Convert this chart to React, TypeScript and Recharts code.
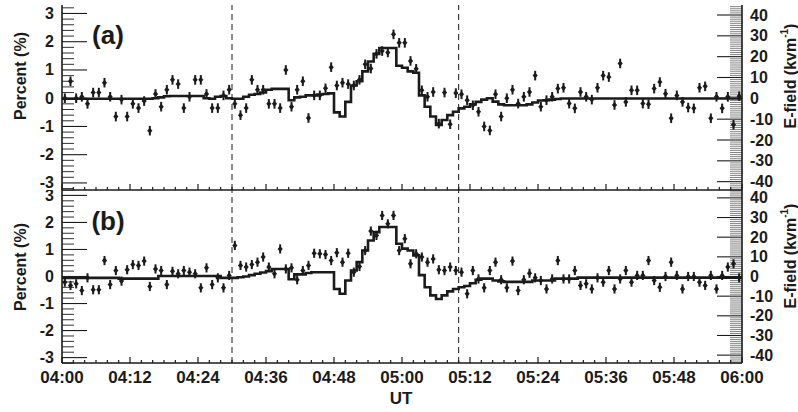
import React from 'react';
import { ComposedChart, Line, Scatter, ErrorBar, XAxis, YAxis, ReferenceLine } from 'recharts';

const INK = '#1b1b1b';
const FONT = '"Liberation Sans", Arial, Helvetica, sans-serif';

// axis labels
const timeLabels = ['04:00', '04:12', '04:24', '04:36', '04:48', '05:00', '05:12', '05:24', '05:36', '05:48', '06:00'];
const timeTicks = [0, 12, 24, 36, 48, 60, 72, 84, 96, 108, 120];
const percentTicks = [-3, -2, -1, 0, 1, 2, 3];
const efieldTicks = [-40, -30, -20, -10, 0, 10, 20, 30, 40];
const dashedTimes = [30, 70];

// panel (a): one-minute bins, percent
const percentA = [
  0.0, 0.6, 0.0, 0.05, -0.2, 0.2, 0.2, 0.55, 0.05, -0.65,
  -0.05, -0.65, -0.2, -0.35, -0.1, -1.15, 0.15, -0.3, 0.3, 0.65,
  0.5, -0.35, 0.05, 0.65, 0.65, 0.15, -0.35, -0.35, 0.1, 0.3,
  -0.2, -0.6, -0.35, 0.65, 0.3, 0.3, -0.2, -0.2, -0.35, 1.0,
  -0.3, 0.3, 0.6, -0.7, 0.1, 0.1, 0.35, 1.1, 0.45, 0.55,
  0.5, 0.45, 0.65, 1.2, 1.05, 1.57, 1.67, 1.62, 2.26, 1.96,
  1.96, 1.32, 1.04, 0.28, 0.05, 0.22, -0.9, 0.2, -0.92, 0.18,
  0.14, -0.07, -0.25, -0.48, -1.0, -1.14, 0.14, -0.65, 0.0, 0.3,
  -0.19, 0.05, 0.22, 0.8, -0.3, -0.07, 0.05, 0.34, 0.37, -0.19,
  -0.36, 0.22, 0.05, -0.05, 0.37, 0.8, 0.75, -0.24, 1.23, -0.13,
  0.28, 0.28, -0.19, -0.21, 0.34, 0.57, 0.16, -0.71, 0.1, -0.13,
  -0.33, -0.36, 0.37, 0.42, -0.71, 0.05, -0.36, 0.05, -0.94, 0.07,
];

const stepA = [
  -0.02, -0.02, -0.02, -0.02, -0.02, -0.02, -0.02, -0.02, -0.02, -0.02,
  -0.02, -0.02, -0.02, -0.02, -0.02, -0.02, 0.0, 0.03, 0.07, 0.08,
  0.08, 0.08, 0.08, 0.08, 0.08, 0.0, -0.02, 0.05, 0.08, 0.0,
  -0.02, -0.02, 0.05, 0.12, 0.15, 0.2, 0.3, 0.33, 0.33, 0.33,
  -0.07, 0.03, 0.05, 0.1, 0.1, 0.13, 0.15, 0.17, -0.5, -0.65,
  -0.13, 0.45, 0.6, 0.95, 1.3, 1.57, 1.78, 1.78, 1.78, 1.15,
  1.08, 0.95, 0.9, 0.1, -0.3, -0.65, -0.95, -0.77, -0.6, -0.48,
  -0.36, -0.3, -0.22, -0.13, -0.05, 0.0, -0.12, -0.22, -0.25, -0.25,
  -0.25, -0.25, -0.22, -0.15, -0.08, -0.07, -0.05, -0.03, -0.01, -0.01,
  -0.01, -0.01, -0.01, -0.01, -0.01, -0.01, -0.01, -0.01, -0.01, -0.01,
  -0.01, -0.01, -0.01, -0.01, -0.01, -0.01, -0.01, -0.01, -0.01, -0.01,
  -0.01, -0.01, -0.01, -0.01, -0.01, -0.01, -0.01, -0.01, -0.01, -0.01,
];

// panel (b)
const percentB = [
  -0.21, -0.33, -0.27, -0.52, -0.05, -0.49, -0.49, 0.59, -0.3, 0.22,
  -0.17, 0.25, 0.44, 0.41, 0.57, -0.37, 0.28, 0.22, -0.3, 0.19,
  0.1, 0.22, 0.16, 0.1, -0.42, 0.32, -0.3, -0.05, -0.42, 0.04,
  1.15, 0.41, 0.35, 0.44, 0.53, 0.72, 0.35, 0.1, 1.02, 0.28,
  0.32, -0.12, 0.22, 0.41, 0.86, 0.84, 0.81, 0.59, 0.88, 0.53,
  0.86, 0.16, 0.37, 0.96, 1.68, 1.52, 2.26, 1.95, 2.26, 0.96,
  1.4, 0.47, 0.84, 0.72, 0.53, 0.65, 0.25, 0.22, 0.35, 0.22,
  0.16, -0.64, 0.22, -0.09, -0.42, 0.22, 0.53, -0.12, -0.42, 0.57,
  -0.52, -0.12, 0.12, -0.05, -0.15, -0.46, -0.09, 0.59, -0.09, -0.09,
  0.22, -0.33, -0.27, -0.46, -0.05, -0.21, 0.22, -0.46, -0.09, 0.22,
  -0.21, 0.04, 0.04, 0.59, -0.15, -0.4, 0.0, 0.53, 0.04, -0.46,
  0.0, 0.0, -0.21, -0.33, 0.04, -0.46, 0.04, 0.35, 0.47, -0.05,
];

const stepB = [
  -0.05, -0.05, -0.05, -0.05, -0.05, -0.05, -0.05, -0.05, -0.05, -0.05,
  -0.08, -0.08, -0.08, -0.08, -0.08, -0.08, -0.08, 0.02, 0.02, 0.02,
  0.02, 0.02, 0.02, 0.02, 0.02, 0.02, 0.02, 0.02, -0.05, -0.05,
  -0.05, -0.03, 0.0, 0.05, 0.1, 0.15, 0.2, 0.28, 0.28, 0.28,
  -0.1, 0.08, 0.08, 0.13, 0.16, 0.16, 0.16, 0.16, -0.46, -0.64,
  -0.15, 0.22, 0.53, 0.96, 1.33, 1.64, 1.83, 1.83, 1.83, 1.21,
  1.03, 0.96, 0.78, 0.05, -0.4, -0.7, -0.83, -0.7, -0.55, -0.46,
  -0.4, -0.35, -0.25, -0.12, -0.08, -0.08, -0.15, -0.18, -0.2, -0.2,
  -0.2, -0.2, -0.2, -0.15, -0.15, -0.15, -0.15, -0.08, -0.08, -0.08,
  -0.08, -0.04, -0.04, -0.04, -0.04, -0.04, -0.04, -0.04, -0.04, -0.04,
  -0.04, -0.04, -0.04, -0.04, -0.04, -0.04, -0.04, -0.04, -0.04, -0.04,
  -0.04, -0.04, -0.04, -0.04, -0.04, -0.04, -0.04, -0.04, -0.04, -0.04,
];

const ERR = 0.17;

// minor tick positions
const xMinor = Array.from({ length: 61 }, (_, k) => k * 2);
const pctMinor = Array.from({ length: 33 }, (_, k) => Math.round((k * 0.2 - 3.2) * 10) / 10);
const efMinor = Array.from({ length: 89 }, (_, k) => k - 44);

const labelStyle = { fontFamily: FONT, fontWeight: 'bold' as const, fill: INK };

const LeftTick = (props: any) => {
  const { x, y, payload } = props;
  const v = payload.value;
  const major = percentTicks.includes(v);
  return (
    <g>
      <line x1={x} x2={x + (major ? 25 : 12)} y1={y} y2={y} stroke={INK} strokeWidth={major ? 1.1 : 0.9} />
      {major && (
        <text x={x - 8} y={y} textAnchor="end" dominantBaseline="central" fontSize={16} {...labelStyle}>
          {v}
        </text>
      )}
    </g>
  );
};

const RightTick = (props: any) => {
  const { x, y, payload } = props;
  const v = payload.value;
  const major = efieldTicks.includes(v);
  return (
    <g>
      <line x1={x} x2={x - (major ? 25 : 12)} y1={y} y2={y} stroke={INK} strokeWidth={major ? 1.1 : 0.55} />
      {major && (
        <text x={x + 8} y={y} textAnchor="start" dominantBaseline="central" fontSize={16} {...labelStyle}>
          {v}
        </text>
      )}
    </g>
  );
};

const makeBottomTick = (showLabels: boolean) => (props: any) => {
  const { x, y, payload } = props;
  const v = payload.value;
  const idx = timeTicks.indexOf(v);
  const major = idx >= 0;
  return (
    <g>
      <line x1={x} x2={x} y1={y} y2={y - (major ? 6 : 3)} stroke={INK} strokeWidth={1.2} />
      {showLabels && major && (
        <text x={x} y={y + 20} textAnchor="middle" fontSize={17} {...labelStyle}>
          {timeLabels[idx]}
        </text>
      )}
    </g>
  );
};

const TopTick = (props: any) => {
  const { x, y, payload } = props;
  const major = timeTicks.includes(payload.value);
  return <line x1={x} x2={x} y1={y} y2={y + (major ? 6 : 3)} stroke={INK} strokeWidth={1.2} />;
};

const Diamond = (props: any) => {
  const { cx, cy } = props;
  if (cx == null || cy == null) return null;
  return <polygon points={`${cx - 2.6},${cy} ${cx},${cy - 3} ${cx + 2.6},${cy} ${cx},${cy + 3}`} fill={INK} />;
};

interface PanelProps {
  top: number;
  height: number;
  marginTop: number;
  bottomHeight: number;
  points: number[];
  step: number[];
  pctDomain: [number, number];
  efDomain: [number, number];
  showTimeLabels: boolean;
}

const Panel: React.FC<PanelProps> = ({ top, height, marginTop, bottomHeight, points, step, pctDomain, efDomain, showTimeLabels }) => {
  const scatterData = points.map((v, i) => ({ t: i + 0.5, v, e: ERR }));
  const stepData = step.map((v, i) => ({ t: i, v }));
  stepData.push({ t: 120, v: step[step.length - 1] });
  const axisLine = { stroke: INK, strokeWidth: 1.6 };

  return (
    <div style={{ position: 'absolute', left: 0, top, width: 798, height }}>
      <ComposedChart
        width={798}
        height={height}
        margin={{ top: marginTop, right: 0, bottom: 0, left: 0 }}
        style={{ overflow: 'visible' }}
      >
        <XAxis
          xAxisId="b"
          type="number"
          dataKey="t"
          domain={[0, 120]}
          allowDataOverflow
          ticks={xMinor}
          interval={0}
          height={bottomHeight}
          tickLine={false}
          tickSize={0}
          tickMargin={0}
          axisLine={axisLine}
          tick={makeBottomTick(showTimeLabels)}
        />
        <XAxis
          xAxisId="t"
          orientation="top"
          type="number"
          dataKey="t"
          domain={[0, 120]}
          allowDataOverflow
          ticks={xMinor}
          interval={0}
          height={0}
          tickLine={false}
          tickSize={0}
          tickMargin={0}
          axisLine={axisLine}
          tick={TopTick}
        />
        <YAxis
          yAxisId="l"
          type="number"
          domain={pctDomain}
          allowDataOverflow
          ticks={pctMinor}
          interval={0}
          width={62}
          tickLine={false}
          tickSize={0}
          tickMargin={0}
          axisLine={axisLine}
          tick={LeftTick}
        />
        <YAxis
          yAxisId="r"
          orientation="right"
          type="number"
          domain={efDomain}
          allowDataOverflow
          ticks={efMinor}
          interval={0}
          width={56}
          tickLine={false}
          tickSize={0}
          tickMargin={0}
          axisLine={axisLine}
          tick={RightTick}
        />
        {dashedTimes.map((t) => (
          <ReferenceLine key={t} xAxisId="b" yAxisId="l" x={t} stroke={INK} strokeWidth={1} strokeDasharray="6 4" />
        ))}
        <Line
          xAxisId="b"
          yAxisId="l"
          data={stepData}
          dataKey="v"
          type="stepAfter"
          stroke={INK}
          strokeWidth={2.6}
          dot={false}
          isAnimationActive={false}
        />
        <Scatter xAxisId="b" yAxisId="l" data={scatterData} dataKey="v" shape={Diamond} isAnimationActive={false}>
          <ErrorBar dataKey="e" direction="y" width={0} stroke={INK} strokeWidth={2} isAnimationActive={false} />
        </Scatter>
      </ComposedChart>
    </div>
  );
};

const App: React.FC = () => {
  return (
    <div style={{ position: 'absolute', left: 0, top: 0, width: 798, height: 412, background: '#fff' }}>
      <Panel
        top={0}
        height={195}
        marginTop={5}
        bottomHeight={5}
        points={percentA}
        step={stepA}
        pctDomain={[-3.25, 3.3]}
        efDomain={[-44, 44.8]}
        showTimeLabels={false}
      />
      <Panel
        top={190}
        height={222}
        marginTop={0}
        bottomHeight={49}
        points={percentB}
        step={stepB}
        pctDomain={[-3.2, 3.2]}
        efDomain={[-44, 44]}
        showTimeLabels={true}
      />
      <svg width={798} height={412} style={{ position: 'absolute', left: 0, top: 0, pointerEvents: 'none' }}>
        <text x={108} y={35} textAnchor="middle" dominantBaseline="central" fontSize={26} {...labelStyle}>(a)</text>
        <text x={108} y={221} textAnchor="middle" dominantBaseline="central" fontSize={26} {...labelStyle}>(b)</text>
        <text x={401} y={404} textAnchor="middle" fontSize={17} {...labelStyle}>UT</text>
        {[76, 267].map((cy) => (
          <text key={cy} x={20} y={cy} transform={`rotate(-90 20 ${cy})`} textAnchor="middle" dominantBaseline="central" fontSize={16} {...labelStyle}>
            Percent (%)
          </text>
        ))}
        {[76, 256].map((cy) => (
          <text key={cy} x={790} y={cy} transform={`rotate(-90 790 ${cy})`} textAnchor="middle" dominantBaseline="central" fontSize={16} {...labelStyle}>
            E-field (kvm<tspan dy={-6} fontSize={10}>-1</tspan><tspan dy={6}>)</tspan>
          </text>
        ))}
      </svg>
    </div>
  );
};

export default App;
